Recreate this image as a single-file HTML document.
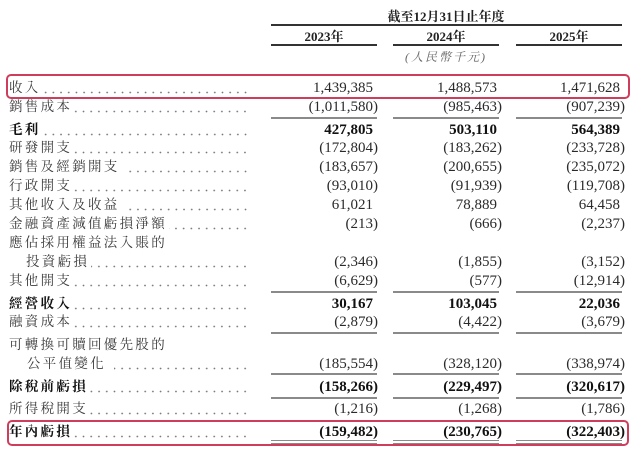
<!DOCTYPE html>
<html>
<head>
<meta charset="utf-8">
<style>
html,body{margin:0;padding:0;background:#fff;}
body{width:640px;height:459px;position:relative;overflow:hidden;}
.a{position:absolute;}
.hd{font-family:"Liberation Serif","Noto Serif CJK SC",serif;font-weight:bold;color:#222;font-size:13px;line-height:16px;white-space:nowrap;text-align:center;}
.unit{font-family:"Liberation Serif","Noto Serif CJK SC",serif;font-style:italic;color:#666;font-size:12px;line-height:16px;letter-spacing:2px;white-space:nowrap;text-align:center;}
.hl{background:#333;height:1.5px;}
.gl{background:#8a8a8a;height:2px;}
.lab{left:9px;width:240px;height:20px;display:flex;align-items:center;font-family:"Liberation Serif","Noto Serif CJK TC","Noto Serif CJK SC",serif;font-size:13.5px;letter-spacing:2.3px;color:#3a3a3a;line-height:20px;white-space:nowrap;}
.lab.b{font-weight:bold;color:#111;}
.lab .f{flex:1;height:20px;margin-left:2px;background-image:radial-gradient(circle 1px at 50% 50%,#777 0.6px,transparent 1.1px);background-size:7.7px 3px;background-repeat:repeat-x;background-position:right 0 bottom 4px;}
.n{font-family:"Liberation Serif",serif;font-size:15px;line-height:20px;height:20px;color:#2a2a2a;text-align:right;white-space:nowrap;}
.n.b{font-weight:bold;color:#111;}
.n.p{padding-right:5px;}
.box{border:2px solid #cf3d5c;border-radius:5px;box-sizing:border-box;}
</style>
</head>
<body>

<!-- header -->
<div class="a hd" style="left:366px;top:9px;width:160px;">截至12月31日止年度</div>
<div class="a hl" style="left:271px;top:24px;width:351px;"></div>
<div class="a hd" style="left:271px;top:29px;width:106px;">2023年</div>
<div class="a hd" style="left:393px;top:29px;width:106px;">2024年</div>
<div class="a hd" style="left:516px;top:29px;width:106px;">2025年</div>
<div class="a hl" style="left:271px;top:44px;width:106px;"></div>
<div class="a hl" style="left:393px;top:44px;width:106px;"></div>
<div class="a hl" style="left:516px;top:44px;width:106px;"></div>
<div class="a unit" style="left:386px;top:49px;width:120px;">(人民幣千元)</div>

<!-- red boxes -->
<div class="a box" style="left:6px;top:74px;width:624px;height:25px;"></div>
<div class="a box" style="left:7px;top:420px;width:622px;height:26px;"></div>

<!-- rows -->
<!-- 收入 88 -->
<div class="a lab" style="top:78px;"><span>收入</span><span class="f"></span></div>
<div class="a n p" style="right:262px;top:78px;">1,439,385</div>
<div class="a n p" style="right:138px;top:78px;">1,488,573</div>
<div class="a n p" style="right:15px;top:78px;">1,471,628</div>

<!-- 銷售成本 107 -->
<div class="a lab" style="top:97px;"><span>銷售成本</span><span class="f"></span></div>
<div class="a n" style="right:262px;top:97px;">(1,011,580)</div>
<div class="a n" style="right:138px;top:97px;">(985,463)</div>
<div class="a n" style="right:15px;top:97px;">(907,239)</div>
<div class="a gl" style="left:271px;top:117px;width:106px;"></div>
<div class="a gl" style="left:393px;top:117px;width:106px;"></div>
<div class="a gl" style="left:516px;top:117px;width:106px;"></div>

<!-- 毛利 130 -->
<div class="a lab b" style="top:120px;"><span>毛利</span><span class="f"></span></div>
<div class="a n b p" style="right:262px;top:120px;">427,805</div>
<div class="a n b p" style="right:138px;top:120px;">503,110</div>
<div class="a n b p" style="right:15px;top:120px;">564,389</div>

<!-- 研發開支 148 -->
<div class="a lab" style="top:138px;"><span>研發開支</span><span class="f"></span></div>
<div class="a n" style="right:262px;top:138px;">(172,804)</div>
<div class="a n" style="right:138px;top:138px;">(183,262)</div>
<div class="a n" style="right:15px;top:138px;">(233,728)</div>

<!-- 銷售及經銷開支 167 -->
<div class="a lab" style="top:157px;"><span>銷售及經銷開支</span><span class="f" style="margin-left:6px"></span></div>
<div class="a n" style="right:262px;top:157px;">(183,657)</div>
<div class="a n" style="right:138px;top:157px;">(200,655)</div>
<div class="a n" style="right:15px;top:157px;">(235,072)</div>

<!-- 行政開支 186 -->
<div class="a lab" style="top:176px;"><span>行政開支</span><span class="f"></span></div>
<div class="a n" style="right:262px;top:176px;">(93,010)</div>
<div class="a n" style="right:138px;top:176px;">(91,939)</div>
<div class="a n" style="right:15px;top:176px;">(119,708)</div>

<!-- 其他收入及收益 205 -->
<div class="a lab" style="top:195px;"><span>其他收入及收益</span><span class="f" style="margin-left:6px"></span></div>
<div class="a n p" style="right:262px;top:195px;">61,021</div>
<div class="a n p" style="right:138px;top:195px;">78,889</div>
<div class="a n p" style="right:15px;top:195px;">64,458</div>

<!-- 金融資產減值虧損淨額 224 -->
<div class="a lab" style="top:214px;"><span>金融資產減值虧損淨額</span><span class="f"></span></div>
<div class="a n" style="right:262px;top:214px;">(213)</div>
<div class="a n" style="right:138px;top:214px;">(666)</div>
<div class="a n" style="right:15px;top:214px;">(2,237)</div>

<!-- 應佔採用權益法入賬的 243 -->
<div class="a lab" style="top:233px;"><span>應佔採用權益法入賬的</span></div>

<!-- 投資虧損 262 -->
<div class="a lab" style="top:252px;left:26px;width:223px;"><span>投資虧損</span><span class="f"></span></div>
<div class="a n" style="right:262px;top:252px;">(2,346)</div>
<div class="a n" style="right:138px;top:252px;">(1,855)</div>
<div class="a n" style="right:15px;top:252px;">(3,152)</div>

<!-- 其他開支 281 -->
<div class="a lab" style="top:271px;"><span>其他開支</span><span class="f"></span></div>
<div class="a n" style="right:262px;top:271px;">(6,629)</div>
<div class="a n" style="right:138px;top:271px;">(577)</div>
<div class="a n" style="right:15px;top:271px;">(12,914)</div>
<div class="a gl" style="left:271px;top:291px;width:106px;"></div>
<div class="a gl" style="left:393px;top:291px;width:106px;"></div>
<div class="a gl" style="left:516px;top:291px;width:106px;"></div>

<!-- 經營收入 304 -->
<div class="a lab b" style="top:294px;"><span>經營收入</span><span class="f"></span></div>
<div class="a n b p" style="right:262px;top:294px;">30,167</div>
<div class="a n b p" style="right:138px;top:294px;">103,045</div>
<div class="a n b p" style="right:15px;top:294px;">22,036</div>

<!-- 融資成本 322 -->
<div class="a lab" style="top:312px;"><span>融資成本</span><span class="f"></span></div>
<div class="a n" style="right:262px;top:312px;">(2,879)</div>
<div class="a n" style="right:138px;top:312px;">(4,422)</div>
<div class="a n" style="right:15px;top:312px;">(3,679)</div>
<div class="a gl" style="left:271px;top:332px;width:106px;"></div>
<div class="a gl" style="left:393px;top:332px;width:106px;"></div>
<div class="a gl" style="left:516px;top:332px;width:106px;"></div>

<!-- 可轉換可贖回優先股的 345 -->
<div class="a lab" style="top:335px;"><span>可轉換可贖回優先股的</span></div>

<!-- 公平值變化 364 -->
<div class="a lab" style="top:354px;left:27px;width:222px;"><span>公平值變化</span><span class="f" style="margin-left:8px"></span></div>
<div class="a n" style="right:262px;top:354px;">(185,554)</div>
<div class="a n" style="right:138px;top:354px;">(328,120)</div>
<div class="a n" style="right:15px;top:354px;">(338,974)</div>
<div class="a gl" style="left:271px;top:373px;width:106px;"></div>
<div class="a gl" style="left:393px;top:373px;width:106px;"></div>
<div class="a gl" style="left:516px;top:373px;width:106px;"></div>

<!-- 除稅前虧損 387 -->
<div class="a lab b" style="top:377px;"><span>除稅前虧損</span><span class="f"></span></div>
<div class="a n b" style="right:262px;top:377px;">(158,266)</div>
<div class="a n b" style="right:138px;top:377px;">(229,497)</div>
<div class="a n b" style="right:15px;top:377px;">(320,617)</div>
<div class="a gl" style="left:271px;top:397px;width:106px;"></div>
<div class="a gl" style="left:393px;top:397px;width:106px;"></div>
<div class="a gl" style="left:516px;top:397px;width:106px;"></div>

<!-- 所得稅開支 409 -->
<div class="a lab" style="top:399px;"><span>所得稅開支</span><span class="f"></span></div>
<div class="a n" style="right:262px;top:399px;">(1,216)</div>
<div class="a n" style="right:138px;top:399px;">(1,268)</div>
<div class="a n" style="right:15px;top:399px;">(1,786)</div>

<!-- 年內虧損 432 -->
<div class="a lab b" style="top:422px;"><span>年內虧損</span><span class="f"></span></div>
<div class="a n b" style="right:262px;top:422px;">(159,482)</div>
<div class="a n b" style="right:138px;top:422px;">(230,765)</div>
<div class="a n b" style="right:15px;top:422px;">(322,403)</div>
<div class="a" style="left:271px;top:440px;width:106px;height:1px;background:#8a8a8a;"></div>
<div class="a" style="left:393px;top:440px;width:106px;height:1px;background:#8a8a8a;"></div>
<div class="a" style="left:516px;top:440px;width:106px;height:1px;background:#8a8a8a;"></div>
<div class="a" style="left:271px;top:443px;width:106px;height:1px;background:#8a8a8a;"></div>
<div class="a" style="left:393px;top:443px;width:106px;height:1px;background:#8a8a8a;"></div>
<div class="a" style="left:516px;top:443px;width:106px;height:1px;background:#8a8a8a;"></div>

</body>
</html>
